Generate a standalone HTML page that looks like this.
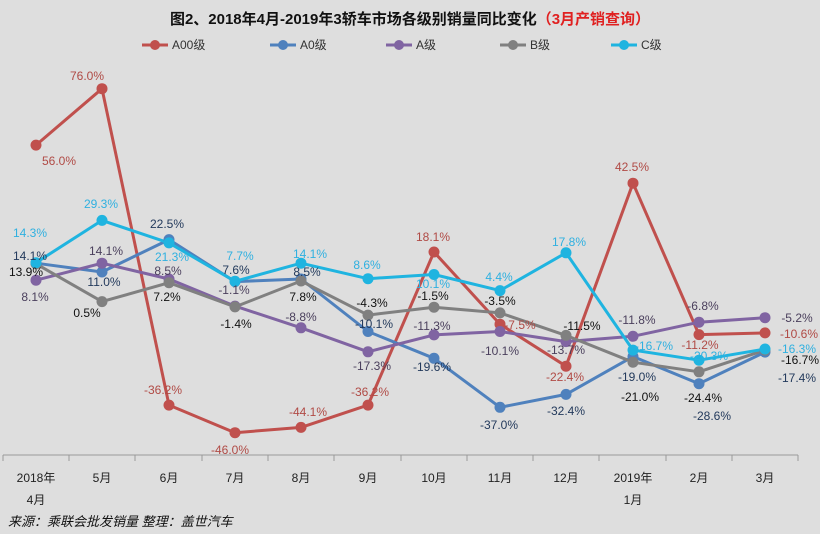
<!DOCTYPE html>
<html><head><meta charset="utf-8"><style>
body{margin:0;background:#fff}
svg{display:block;font-family:"Liberation Sans","Noto Sans CJK SC",sans-serif}
</style></head><body>
<svg width="820" height="534" viewBox="0 0 820 534" xmlns="http://www.w3.org/2000/svg">
<rect width="820" height="534" fill="#dedede"/>
<text x="410" y="24" text-anchor="middle" font-size="15" font-weight="bold" fill="#111">图2、2018年4月-2019年3轿车市场各级别销量同比变化<tspan fill="#e02020">（3月产销查询）</tspan></text>
<g font-size="12" fill="#333">
<line x1="142" y1="45" x2="168" y2="45" stroke="#c0504d" stroke-width="3"/><circle cx="155" cy="45" r="5" fill="#c0504d"/><text x="172" y="49">A00级</text>
<line x1="270" y1="45" x2="296" y2="45" stroke="#4f81bd" stroke-width="3"/><circle cx="283" cy="45" r="5" fill="#4f81bd"/><text x="300" y="49">A0级</text>
<line x1="386" y1="45" x2="412" y2="45" stroke="#8064a2" stroke-width="3"/><circle cx="399" cy="45" r="5" fill="#8064a2"/><text x="416" y="49">A级</text>
<line x1="500" y1="45" x2="526" y2="45" stroke="#808080" stroke-width="3"/><circle cx="513" cy="45" r="5" fill="#808080"/><text x="530" y="49">B级</text>
<line x1="611" y1="45" x2="637" y2="45" stroke="#1fb4e0" stroke-width="3"/><circle cx="624" cy="45" r="5" fill="#1fb4e0"/><text x="641" y="49">C级</text>
</g>
<line x1="3" y1="455" x2="798" y2="455" stroke="#999" stroke-width="1"/>
<g stroke="#999"><line x1="3" y1="455" x2="3" y2="461"/><line x1="69" y1="455" x2="69" y2="461"/><line x1="135" y1="455" x2="135" y2="461"/><line x1="202" y1="455" x2="202" y2="461"/><line x1="268" y1="455" x2="268" y2="461"/><line x1="334" y1="455" x2="334" y2="461"/><line x1="401" y1="455" x2="401" y2="461"/><line x1="467" y1="455" x2="467" y2="461"/><line x1="533" y1="455" x2="533" y2="461"/><line x1="599" y1="455" x2="599" y2="461"/><line x1="666" y1="455" x2="666" y2="461"/><line x1="732" y1="455" x2="732" y2="461"/><line x1="798" y1="455" x2="798" y2="461"/></g>
<g font-size="12" fill="#222" text-anchor="middle">
<text x="36" y="482">2018年</text><text x="36" y="504">4月</text>
<text x="102" y="482">5月</text><text x="169" y="482">6月</text><text x="235" y="482">7月</text><text x="301" y="482">8月</text><text x="368" y="482">9月</text><text x="434" y="482">10月</text><text x="500" y="482">11月</text><text x="566" y="482">12月</text>
<text x="633" y="482">2019年</text><text x="633" y="504">1月</text>
<text x="699" y="482">2月</text><text x="765" y="482">3月</text>
</g>
<text x="8" y="526" font-size="13" font-style="italic" fill="#111">来源：乘联会批发销量 整理：盖世汽车</text>
<g fill="none" stroke-width="3" stroke-linejoin="round">
<polyline stroke="#c0504d" points="36,145.1 102,88.7 169,405.1 235,432.7 301,427.4 368,405.1 434,252 500,324.2 566,366.2 633,183.2 699,334.6 765,332.9"/>
<polyline stroke="#4f81bd" points="36,263.2 102,272 169,239.6 235,281.6 301,279 368,331.5 434,358.3 500,407.3 566,394.4 633,356.6 699,383.7 765,352.1"/>
<polyline stroke="#8064a2" points="36,280.2 102,263.2 169,279 235,306.1 301,327.8 368,351.8 434,334.9 500,331.5 566,341.6 633,336.3 699,322.2 765,317.7"/>
<polyline stroke="#808080" points="36,263.8 102,301.6 169,282.7 235,306.9 301,281 368,315.1 434,307.2 500,312.9 566,335.4 633,362.2 699,371.8 765,350.1"/>
<polyline stroke="#1fb4e0" points="36,262.7 102,220.4 169,242.9 235,281.3 301,263.2 368,278.7 434,274.5 500,290.6 566,252.8 633,350.1 699,360.2 765,349"/>
</g>
<g fill="#c0504d"><circle cx="36" cy="145.1" r="5.5"/><circle cx="102" cy="88.7" r="5.5"/><circle cx="169" cy="405.1" r="5.5"/><circle cx="235" cy="432.7" r="5.5"/><circle cx="301" cy="427.4" r="5.5"/><circle cx="368" cy="405.1" r="5.5"/><circle cx="434" cy="252" r="5.5"/><circle cx="500" cy="324.2" r="5.5"/><circle cx="566" cy="366.2" r="5.5"/><circle cx="633" cy="183.2" r="5.5"/><circle cx="699" cy="334.6" r="5.5"/><circle cx="765" cy="332.9" r="5.5"/></g>
<g fill="#4f81bd"><circle cx="36" cy="263.2" r="5.5"/><circle cx="102" cy="272" r="5.5"/><circle cx="169" cy="239.6" r="5.5"/><circle cx="235" cy="281.6" r="5.5"/><circle cx="301" cy="279" r="5.5"/><circle cx="368" cy="331.5" r="5.5"/><circle cx="434" cy="358.3" r="5.5"/><circle cx="500" cy="407.3" r="5.5"/><circle cx="566" cy="394.4" r="5.5"/><circle cx="633" cy="356.6" r="5.5"/><circle cx="699" cy="383.7" r="5.5"/><circle cx="765" cy="352.1" r="5.5"/></g>
<g fill="#8064a2"><circle cx="36" cy="280.2" r="5.5"/><circle cx="102" cy="263.2" r="5.5"/><circle cx="169" cy="279" r="5.5"/><circle cx="235" cy="306.1" r="5.5"/><circle cx="301" cy="327.8" r="5.5"/><circle cx="368" cy="351.8" r="5.5"/><circle cx="434" cy="334.9" r="5.5"/><circle cx="500" cy="331.5" r="5.5"/><circle cx="566" cy="341.6" r="5.5"/><circle cx="633" cy="336.3" r="5.5"/><circle cx="699" cy="322.2" r="5.5"/><circle cx="765" cy="317.7" r="5.5"/></g>
<g fill="#808080"><circle cx="36" cy="263.8" r="5.5"/><circle cx="102" cy="301.6" r="5.5"/><circle cx="169" cy="282.7" r="5.5"/><circle cx="235" cy="306.9" r="5.5"/><circle cx="301" cy="281" r="5.5"/><circle cx="368" cy="315.1" r="5.5"/><circle cx="434" cy="307.2" r="5.5"/><circle cx="500" cy="312.9" r="5.5"/><circle cx="566" cy="335.4" r="5.5"/><circle cx="633" cy="362.2" r="5.5"/><circle cx="699" cy="371.8" r="5.5"/><circle cx="765" cy="350.1" r="5.5"/></g>
<g fill="#1fb4e0"><circle cx="36" cy="262.7" r="5.5"/><circle cx="102" cy="220.4" r="5.5"/><circle cx="169" cy="242.9" r="5.5"/><circle cx="235" cy="281.3" r="5.5"/><circle cx="301" cy="263.2" r="5.5"/><circle cx="368" cy="278.7" r="5.5"/><circle cx="434" cy="274.5" r="5.5"/><circle cx="500" cy="290.6" r="5.5"/><circle cx="566" cy="252.8" r="5.5"/><circle cx="633" cy="350.1" r="5.5"/><circle cx="699" cy="360.2" r="5.5"/><circle cx="765" cy="349" r="5.5"/></g>
<g font-size="12" text-anchor="middle">
<g fill="#b04a45"><text x="59" y="165">56.0%</text><text x="87" y="80">76.0%</text><text x="163" y="394">-36.2%</text><text x="230" y="454">-46.0%</text><text x="308" y="416">-44.1%</text><text x="370" y="396">-36.2%</text><text x="433" y="241">18.1%</text><text x="520" y="329">-7.5%</text><text x="565" y="381">-22.4%</text><text x="632" y="171">42.5%</text><text x="700" y="349">-11.2%</text><text x="799" y="338">-10.6%</text></g>
<g fill="#233a5c"><text x="30" y="260">14.1%</text><text x="104" y="286">11.0%</text><text x="167" y="228">22.5%</text><text x="236" y="274">7.6%</text><text x="307" y="276">8.5%</text><text x="374" y="328">-10.1%</text><text x="432" y="371">-19.6%</text><text x="499" y="429">-37.0%</text><text x="566" y="415">-32.4%</text><text x="637" y="381">-19.0%</text><text x="712" y="420">-28.6%</text><text x="797" y="382">-17.4%</text></g>
<g fill="#4a3f5c"><text x="35" y="301">8.1%</text><text x="106" y="255">14.1%</text><text x="168" y="275">8.5%</text><text x="234" y="294">-1.1%</text><text x="301" y="321">-8.8%</text><text x="372" y="370">-17.3%</text><text x="432" y="330">-11.3%</text><text x="500" y="355">-10.1%</text><text x="566" y="354">-13.7%</text><text x="637" y="324">-11.8%</text><text x="703" y="310">-6.8%</text><text x="797" y="322">-5.2%</text></g>
<g fill="#111"><text x="26" y="276">13.9%</text><text x="87" y="317">0.5%</text><text x="167" y="301">7.2%</text><text x="236" y="328">-1.4%</text><text x="303" y="301">7.8%</text><text x="372" y="307">-4.3%</text><text x="433" y="300">-1.5%</text><text x="500" y="305">-3.5%</text><text x="582" y="330">-11.5%</text><text x="640" y="401">-21.0%</text><text x="703" y="402">-24.4%</text><text x="800" y="364">-16.7%</text></g>
<g fill="#2fb0e0"><text x="30" y="237">14.3%</text><text x="101" y="208">29.3%</text><text x="172" y="261">21.3%</text><text x="240" y="260">7.7%</text><text x="310" y="258">14.1%</text><text x="367" y="269">8.6%</text><text x="433" y="288">10.1%</text><text x="499" y="281">4.4%</text><text x="569" y="246">17.8%</text><text x="654" y="350">-16.7%</text><text x="709" y="360">-20.3%</text><text x="797" y="353">-16.3%</text></g>
</g>
</svg>
</body></html>
